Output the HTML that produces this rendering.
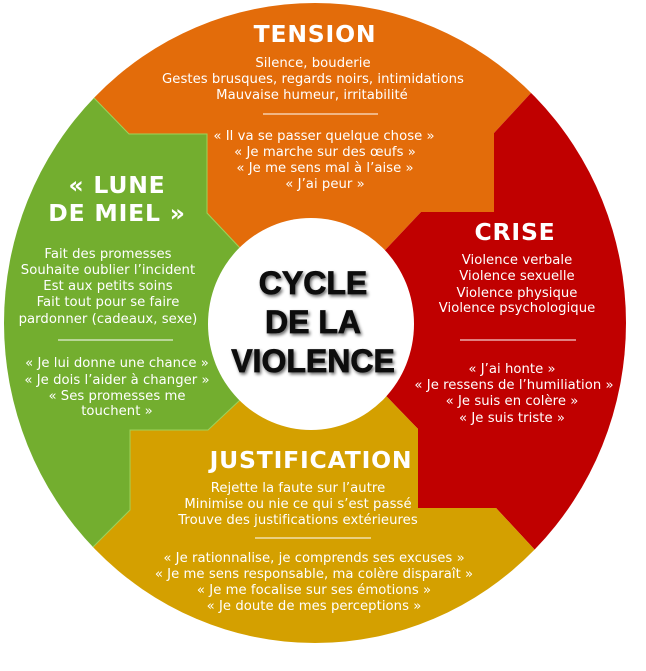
<!DOCTYPE html>
<html><head><meta charset="utf-8"><style>
html,body{margin:0;padding:0;background:#fff;width:646px;height:671px;overflow:hidden}
svg{display:block}
.t{font-family:"DejaVu Sans","Liberation Sans",sans-serif;font-size:13.2px;fill:#fff;letter-spacing:0.05px;text-anchor:middle}
.h{font-family:"DejaVu Sans","Liberation Sans",sans-serif;font-weight:bold;font-size:23.5px;fill:#fff;text-anchor:middle;letter-spacing:0.8px}
.c{font-family:"Liberation Sans",sans-serif;font-weight:900;font-size:32px;fill:#111;text-anchor:middle;stroke:#111;stroke-width:0.8px}
</style></head><body>
<svg width="646" height="671" viewBox="0 0 646 671">
<defs>
<clipPath id="cc"><ellipse cx="315" cy="323" rx="311" ry="320"/></clipPath>
<filter id="sh" x="-20%" y="-20%" width="140%" height="140%"><feGaussianBlur in="SourceAlpha" stdDeviation="1.5"/><feOffset dx="1.5" dy="2"/><feComponentTransfer><feFuncA type="linear" slope="0.6"/></feComponentTransfer><feMerge><feMergeNode/><feMergeNode in="SourceGraphic"/></feMerge></filter>
</defs>
<g clip-path="url(#cc)">
<polygon fill="#E36C0A" points="-10,-10 95,99 129,134 207,134 207,213 240,248 315,324 388,247 421,212 494,212 494,133 530,94 650,-30"/>
<polygon fill="#C00000" points="650,-30 530,94 494,133 494,212 421,212 388,247 315,324 390,400 418,429 418,508 496,508 535,550 660,680 660,-30"/>
<polygon fill="#D4A000" points="660,680 535,550 496,508 418,508 418,429 390,400 315,324 240,400 208,430 130,430 130,510 94,546 -20,680"/>
<polygon fill="#73AE2F" stroke="#9CD35A" stroke-width="1" points="-20,680 94,546 130,510 130,430 208,430 240,400 315,324 240,248 207,213 207,134 129,134 95,99 -10,-10"/>
</g>
<ellipse cx="311" cy="324" rx="103" ry="106" fill="#fff"/>

<text class="h" x="315" y="42">TENSION</text>
<text class="t" x="313" y="67">Silence, bouderie</text>
<text class="t" x="313" y="83">Gestes brusques, regards noirs, intimidations</text>
<text class="t" x="312" y="99">Mauvaise humeur, irritabilité</text>
<line x1="263" y1="114" x2="378" y2="114" stroke="#fff" stroke-width="1"/>
<text class="t" x="324" y="140">« Il va se passer quelque chose »</text>
<text class="t" x="325" y="156">« Je marche sur des œufs »</text>
<text class="t" x="325" y="172">« Je me sens mal à l’aise »</text>
<text class="t" x="325" y="188">« J’ai peur »</text>

<text class="h" x="515" y="240">CRISE</text>
<text class="t" x="517" y="264">Violence verbale</text>
<text class="t" x="517" y="280">Violence sexuelle</text>
<text class="t" x="517" y="297">Violence physique</text>
<text class="t" x="517" y="312">Violence psychologique</text>
<line x1="460" y1="340" x2="576" y2="340" stroke="#fff" stroke-width="1"/>
<text class="t" x="512" y="373">« J’ai honte »</text>
<text class="t" x="514" y="389">« Je ressens de l’humiliation »</text>
<text class="t" x="512" y="405">« Je suis en colère »</text>
<text class="t" x="512" y="422">« Je suis triste »</text>

<text class="h" x="117" y="193">« LUNE</text>
<text class="h" x="117" y="221">DE MIEL »</text>
<text class="t" x="108" y="258">Fait des promesses</text>
<text class="t" x="108" y="274">Souhaite oublier l’incident</text>
<text class="t" x="108" y="290">Est aux petits soins</text>
<text class="t" x="108" y="306">Fait tout pour se faire</text>
<text class="t" x="108" y="323">pardonner (cadeaux, sexe)</text>
<line x1="58" y1="340" x2="173" y2="340" stroke="#fff" stroke-width="1"/>
<text class="t" x="117" y="367">« Je lui donne une chance »</text>
<text class="t" x="117" y="384">« Je dois l’aider à changer »</text>
<text class="t" x="117" y="400">« Ses promesses me</text>
<text class="t" x="117" y="415">touchent »</text>

<text class="h" x="311" y="468">JUSTIFICATION</text>
<text class="t" x="298" y="492">Rejette la faute sur l’autre</text>
<text class="t" x="298" y="508">Minimise ou nie ce qui s’est passé</text>
<text class="t" x="298" y="524">Trouve des justifications extérieures</text>
<line x1="255" y1="538" x2="371" y2="538" stroke="#fff" stroke-width="1"/>
<text class="t" x="314" y="562">« Je rationnalise, je comprends ses excuses »</text>
<text class="t" x="314" y="578">« Je me sens responsable, ma colère disparaît »</text>
<text class="t" x="314" y="594">« Je me focalise sur ses émotions »</text>
<text class="t" x="314" y="610">« Je doute de mes perceptions »</text>

<g filter="url(#sh)">
<text class="c" x="313" y="294">CYCLE</text>
<text class="c" x="313" y="333">DE LA</text>
<text class="c" x="313" y="372">VIOLENCE</text>
</g>
</svg>
</body></html>
